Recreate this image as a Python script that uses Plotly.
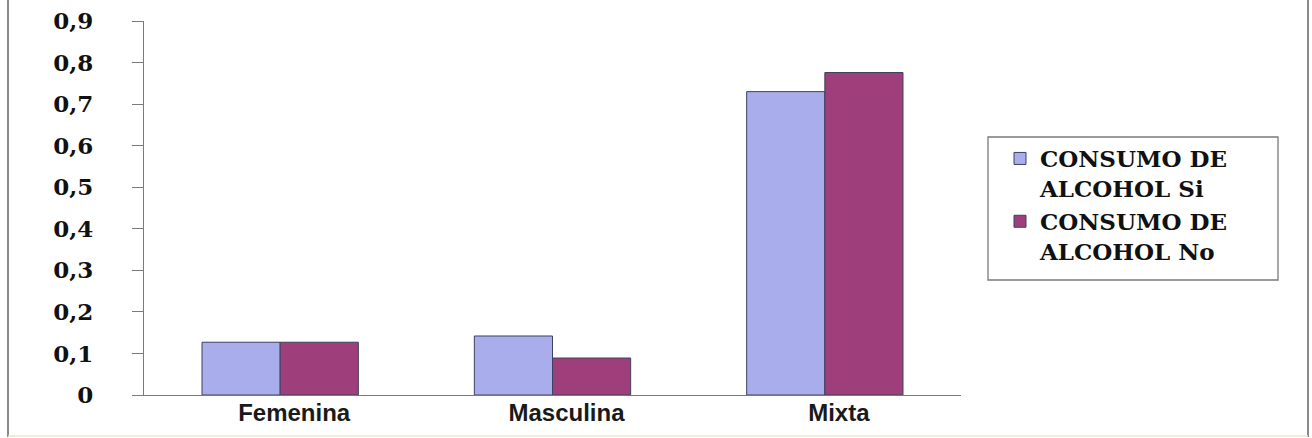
import plotly.graph_objects as go

# Category labels and series values
categories = ["Femenina", "Masculina", "Mixta"]
consumo_si = [0.127, 0.142, 0.730]
consumo_no = [0.127, 0.089, 0.776]
series_names = ["CONSUMO DE<br>ALCOHOL Si", "CONSUMO DE<br>ALCOHOL No"]

# Y axis ticks (decimal comma)
y_tickvals = [0, 0.1, 0.2, 0.3, 0.4, 0.5, 0.6, 0.7, 0.8, 0.9]
y_ticktext = ["0", "0,1", "0,2", "0,3", "0,4", "0,5", "0,6", "0,7", "0,8", "0,9"]

W, H = 1312, 438
ML, MR, MT, MB = 144, 351, 21, 43
PW, PH = W - ML - MR, H - MT - MB


def px_x(p):
    return (p - ML) / PW


def px_y(p):
    return (H - MB - p) / PH


SERIF = "DejaVu Serif, Liberation Serif, serif"
SANS = "Liberation Sans, Arial, sans-serif"

fig = go.Figure()
fig.add_trace(go.Bar(
    x=categories, y=consumo_si, name=series_names[0],
    marker=dict(color="#A9ADEC", line=dict(color="#3E4060", width=1)),
))
fig.add_trace(go.Bar(
    x=categories, y=consumo_no, name=series_names[1],
    marker=dict(color="#9E3E7B", line=dict(color="#3E4060", width=1)),
))

fig.update_layout(
    width=W, height=H,
    margin=dict(l=ML, r=MR, t=MT, b=MB, autoexpand=False),
    paper_bgcolor="white", plot_bgcolor="white",
    barmode="group", bargap=0.426, bargroupgap=0,
    showlegend=True,
    legend=dict(
        x=px_x(1000), y=px_y(137), xanchor="left", yanchor="top",
        bgcolor="rgba(0,0,0,0)", borderwidth=0,
        font=dict(family=SERIF, size=23, color="#111", weight="bold"),
        valign="top", tracegroupgap=2,
    ),
    xaxis=dict(
        automargin=False,
        showline=True, linecolor="#7A7A7A", linewidth=1.3,
        showgrid=False, ticks="", ticklabelstandoff=-4, ticklabelshift=14,
        tickfont=dict(family=SANS, size=24, color="#1A1A1A", weight="bold"),
    ),
    yaxis=dict(
        automargin=False,
        range=[0, 0.9], showline=True, linecolor="#7A7A7A", linewidth=1.3,
        showgrid=False, zeroline=False,
        ticks="outside", ticklen=11, tickwidth=1.3, tickcolor="#7A7A7A",
        tickvals=y_tickvals, ticktext=y_ticktext,
        ticklabelstandoff=34,
        tickfont=dict(family=SERIF, size=23, color="#111", weight="bold"),
    ),
    shapes=[
        # legend frame
        dict(type="rect", xref="paper", yref="paper",
             x0=px_x(988), x1=px_x(1278), y0=px_y(280), y1=px_y(137),
             line=dict(color="#7A7A7A", width=1.3), layer="below"),
        # outer chart frame
        dict(type="line", xref="paper", yref="paper",
             x0=px_x(8), x1=px_x(8), y0=px_y(-5), y1=px_y(437),
             line=dict(color="#8A8A8A", width=2)),
        dict(type="line", xref="paper", yref="paper",
             x0=px_x(1308), x1=px_x(1308), y0=px_y(-5), y1=px_y(437),
             line=dict(color="#8A8A8A", width=2)),
        dict(type="line", xref="paper", yref="paper",
             x0=px_x(8), x1=px_x(1308), y0=px_y(436), y1=px_y(436),
             line=dict(color="#EEE6C4", width=1.5)),
    ],
)

fig.write_html("out.html")
